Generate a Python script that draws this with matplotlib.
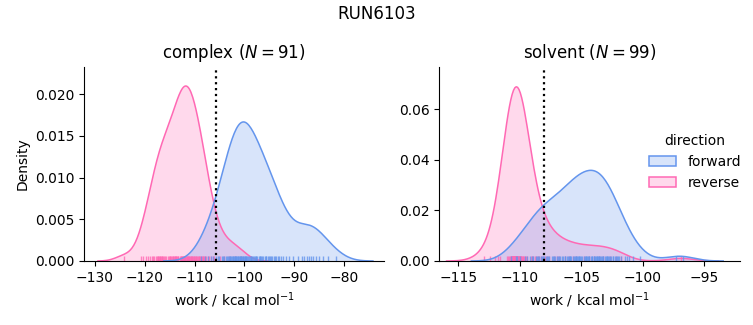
import numpy as np
import matplotlib
matplotlib.use('Agg')
import matplotlib.pyplot as plt
from matplotlib.patches import Patch

run_name = 'RUN6103'
phases = ['complex', 'solvent']
directions = ['forward', 'reverse']
colors = {'forward': 'cornflowerblue', 'reverse': 'hotpink'}

# work values (kcal/mol) per phase and direction
complex_forward = [
    -108.8, -107.9, -107.3, -106.7, -106.3, -105.8, -105.4, -105.1, -104.6,
    -104.4, -104.1, -103.8, -103.6, -103.4, -103.2, -103.0, -102.9, -102.7, -102.6,
    -102.4, -102.3, -102.1, -101.9, -101.8, -101.7, -101.6,
    -101.4, -101.3, -101.2, -101.0, -100.9, -100.8, -100.7, -100.6,
    -100.4, -100.3, -100.2, -100.0, -99.9, -99.8, -99.7, -99.6,
    -99.4, -99.2, -99.1, -98.9, -98.7, -98.6,
    -98.4, -98.2, -98.0, -97.9, -97.7, -97.6,
    -97.4, -97.1, -96.9, -96.8, -96.6,
    -96.4, -96.2, -95.9, -95.7, -95.6,
    -95.3, -95.1, -94.8, -94.6, -94.4, -94.1, -93.8, -93.6,
    -93.3, -93.0, -92.7, -92.2, -91.7, -91.1, -90.2,
    -89.3, -88.4, -88.0, -87.5, -87.0, -86.6, -86.2, -85.7,
    -85.1, -84.3, -83.2, -81.6,
]
complex_reverse = [
    -124.1, -120.8, -120.3, -119.7, -119.4, -119.0, -118.6,
    -118.4, -118.2, -117.8, -117.6,
    -117.45, -117.3, -117.15, -117.0, -116.85, -116.7, -116.55,
    -116.45, -116.3, -116.15, -115.85, -115.7, -115.35,
    -115.15, -115.0, -114.85, -114.7, -114.55, -114.4, -114.25,
    -114.15, -114.0, -113.9, -113.75, -113.65, -113.5, -113.4, -113.25,
    -112.95, -112.8, -112.7, -112.55, -112.45, -112.35, -112.3, -112.2, -112.05,
    -111.95, -111.9, -111.85, -111.75, -111.6, -111.5, -111.4, -111.25, -111.15, -111.05,
    -110.95, -110.8, -110.7, -110.55, -110.45, -110.3, -110.2, -110.05,
    -109.95, -109.8, -109.65, -109.5, -109.35, -109.2, -109.05,
    -108.9, -108.75, -108.6, -108.4, -108.25, -108.1,
    -107.9, -107.65, -107.35, -107.1, -106.8, -106.3,
    -106.1, -104.9, -104.2, -103.1, -101.9, -100.6,
]
solvent_forward = [
    -110.7, -110.3, -110.2, -110.0, -109.6,
    -109.4, -109.2, -109.0, -108.9, -108.7, -108.6, -108.5,
    -108.4, -108.3, -108.2, -108.15, -108.0, -107.9, -107.8, -107.7, -107.6,
    -107.4, -107.3, -107.2, -107.1, -107.0, -106.9, -106.8, -106.7, -106.6,
    -106.45, -106.35, -106.3, -106.2, -106.1, -106.0, -105.95, -105.9, -105.8, -105.7, -105.6, -105.55,
    -105.45, -105.4, -105.35, -105.3, -105.2, -105.15, -105.1, -105.0,
    -104.95, -104.8, -104.7, -104.65, -104.6, -104.55,
    -104.45, -104.4, -104.35, -104.2, -104.15, -104.1, -104.0,
    -103.95, -103.9, -103.8, -103.75, -103.7, -103.65, -103.6, -103.55,
    -103.45, -103.4, -103.3, -103.25, -103.2, -103.1, -103.0,
    -102.95, -102.9, -102.8, -102.75, -102.7, -102.6,
    -102.45, -102.4, -102.3, -102.2, -102.1, -102.0, -101.9, -101.8,
    -101.45, -101.3, -101.1, -100.8, -100.2, -97.3, -96.7,
]
solvent_reverse = [
    -112.9, -112.4, -112.0, -111.8, -111.6, -111.0,
    -110.93, -110.85, -110.79, -110.75, -110.71, -110.68, -110.65, -110.63, -110.61, -110.59,
    -110.57, -110.56, -110.54, -110.53, -110.52, -110.51, -110.5, -110.49, -110.48, -110.47,
    -110.46, -110.45, -110.44, -110.43, -110.42, -110.415, -110.41, -110.4, -110.39, -110.38,
    -110.37, -110.36, -110.355, -110.35, -110.34, -110.33, -110.32, -110.31, -110.305, -110.3,
    -110.29, -110.28, -110.26, -110.25, -110.23, -110.21, -110.19, -110.17, -110.15, -110.13,
    -110.1, -110.07, -110.04, -110.01, -109.98, -109.94, -109.9, -109.86, -109.81, -109.76,
    -109.7, -109.63, -109.56, -109.48, -109.38,
    -109.1, -109.0, -108.9, -108.8, -108.7, -108.55, -108.4, -108.25, -108.1, -107.95,
    -107.8, -107.6, -107.2, -107.0, -106.8, -106.3, -106.0, -105.7, -105.4,
    -104.8, -104.4, -104.0, -103.6, -103.2, -102.7, -102.2, -101.8,
    -96.9,
]

# free energy estimates marked on each panel
dg_complex = -105.8
dg_solvent = -108.0

work = {
    ('complex', 'forward'): complex_forward,
    ('complex', 'reverse'): complex_reverse,
    ('solvent', 'forward'): solvent_forward,
    ('solvent', 'reverse'): solvent_reverse,
}
dg = {'complex': dg_complex, 'solvent': dg_solvent}
n_total = sum(len(v) for v in work.values())


def kde_curve(x, n_norm, cut=3, gridsize=200):
    # gaussian kde, scott bandwidth, normalised over all the work values
    x = np.asarray(x, dtype=float)
    bw = x.std(ddof=1) * len(x) ** (-1 / 5)
    grid = np.linspace(x.min() - cut * bw, x.max() + cut * bw, gridsize)
    dens = np.exp(-0.5 * ((grid[:, None] - x[None, :]) / bw) ** 2).sum(axis=1)
    dens /= np.sqrt(2 * np.pi) * bw * n_norm
    return grid, dens


fig = plt.figure(figsize=(7.53, 3.25), dpi=100)
ax_c = fig.add_axes([84 / 753, 64 / 325, 300 / 753, 194.3 / 325])
ax_s = fig.add_axes([439.3 / 753, 64 / 325, 300.7 / 753, 194.3 / 325])
axes = {'complex': ax_c, 'solvent': ax_s}

for phase in phases:
    ax = axes[phase]
    for direction in ['reverse', 'forward']:
        x = work[(phase, direction)]
        grid, dens = kde_curve(x, n_total)
        ax.fill_between(grid, dens, facecolor=colors[direction], alpha=0.25, lw=0)
        ax.plot(grid, dens, color=colors[direction], lw=1.1)
        ax.vlines(x, 0, 0.025, transform=ax.get_xaxis_transform(),
                  colors=colors[direction], lw=1, alpha=0.8)
    ax.axvline(dg[phase], color='k', ls=':', lw=1.6)
    n = len(work[(phase, 'forward')])
    ax.set_title(phase + ' ($N=' + str(n) + '$)', fontsize=12)
    ax.set_xlabel('work / kcal mol$^{-1}$')
    ax.spines['top'].set_visible(False)
    ax.spines['right'].set_visible(False)

ax_c.set_xlim(-132.2, -72.0)
ax_c.set_ylim(0, 0.0233)
ax_c.set_xticks([-130, -120, -110, -100, -90, -80])
ax_c.set_ylabel('Density')
ax_s.set_xlim(-116.54, -92.1)
ax_s.set_ylim(0, 0.0768)
ax_s.set_xticks([-115, -110, -105, -100, -95])
ax_s.set_yticks([0.0, 0.02, 0.04, 0.06])

handles = [Patch(facecolor=matplotlib.colors.to_rgba(colors[d], 0.25),
                 edgecolor=colors[d], lw=1.1, label=d) for d in directions]
fig.legend(handles=handles, title='direction', frameon=False,
           loc='center left', bbox_to_anchor=(636 / 753, 1 - 162 / 325))

fig.suptitle(run_name, fontsize=12, y=0.985)
fig.savefig('out.png', dpi=100)
